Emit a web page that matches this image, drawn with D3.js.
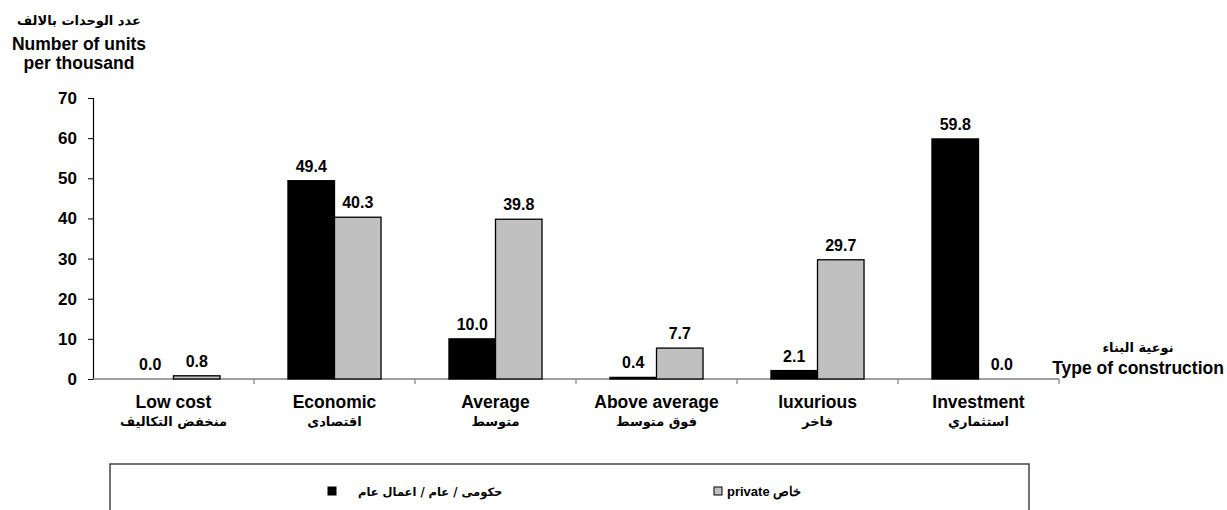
<!DOCTYPE html>
<html>
<head>
<meta charset="utf-8">
<script src="https://cdn.jsdelivr.net/npm/d3@7"></script>
<style>
  body { margin: 0; background: #fff; }
  text { font-family: "Liberation Sans", Arial, sans-serif; font-weight: bold; fill: #000; }
  .ar { font-family: "DejaVu Sans", sans-serif; }
</style>
</head>
<body>
<svg id="chart" width="1227" height="510"></svg>
<script>
const categories = ['Low cost', 'Economic', 'Average', 'Above average', 'luxurious', 'Investment'];
const categoriesAr = ['منخفض التكاليف', 'اقتصادى', 'متوسط', 'فوق متوسط', 'فاخر', 'استثماري'];
const series = ['gov', 'private'];
const govValues = [0.0, 49.4, 10.0, 0.4, 2.1, 59.8];
const privateValues = [0.8, 40.3, 39.8, 7.7, 29.7, 0.0];
const yTicks = [0, 10, 20, 30, 40, 50, 60, 70];

const svg = d3.select('#chart');

const x = d3.scaleBand()
  .domain(categories)
  .range([93, 1059])
  .paddingInner(0)
  .paddingOuter(0);

const xInner = d3.scaleBand()
  .domain(series)
  .range([0, x.bandwidth()])
  .paddingInner(0)
  .paddingOuter(0.73);

const y = d3.scaleLinear()
  .domain([0, 70])
  .range([379, 98]);

const fills = { gov: '#000', private: '#c0c0c0' };

// y axis
const yAxis = svg.append('g')
  .attr('transform', 'translate(93,0)')
  .call(d3.axisLeft(y).tickValues(yTicks).tickSize(5).tickPadding(11).tickFormat(d3.format('d')));
yAxis.select('.domain').attr('stroke', '#000').attr('stroke-width', 1.2);
yAxis.selectAll('.tick line').attr('stroke', '#000');
yAxis.selectAll('.tick text')
  .style('font-size', '17px')
  .style('font-family', '"Liberation Sans", Arial, sans-serif')
  .style('font-weight', 'bold')
  .attr('fill', '#000');

// x axis line + boundary ticks
const xAxis = svg.append('g');
xAxis.append('line')
  .attr('x1', x.range()[0]).attr('x2', x.range()[1])
  .attr('y1', y(0)).attr('y2', y(0))
  .attr('stroke', '#808080')
  .attr('stroke-width', 1.5);
const bounds = categories.map(c => x(c) + x.bandwidth());
xAxis.selectAll('.xtick')
  .data(bounds)
  .join('line')
    .attr('class', 'xtick')
    .attr('x1', d => d).attr('x2', d => d)
    .attr('y1', y(0)).attr('y2', y(0) + 5)
    .attr('stroke', '#808080')
    .attr('stroke-width', 1.2);

// bars
const rows = categories.map((c, i) => ({
  cat: c,
  values: [
    { key: 'gov', v: govValues[i] },
    { key: 'private', v: privateValues[i] },
  ],
}));

const groups = svg.append('g')
  .selectAll('g')
  .data(rows)
  .join('g')
    .attr('transform', d => `translate(${x(d.cat)},0)`);

groups.selectAll('rect')
  .data(d => d.values)
  .join('rect')
    .attr('x', d => xInner(d.key))
    .attr('y', d => y(d.v))
    .attr('width', xInner.bandwidth())
    .attr('height', d => y(0) - y(d.v))
    .attr('fill', d => fills[d.key])
    .attr('stroke', '#000')
    .attr('stroke-width', 1.3);

groups.selectAll('text.val')
  .data(d => d.values)
  .join('text')
    .attr('class', 'val')
    .attr('x', d => xInner(d.key) + xInner.bandwidth() / 2)
    .attr('y', d => y(d.v) - 9)
    .attr('text-anchor', 'middle')
    .style('font-size', '16px')
    .text(d => d.v.toFixed(1));

// category labels
const catLabels = svg.append('g')
  .selectAll('g')
  .data(categories)
  .join('g')
    .attr('transform', d => `translate(${x(d) + x.bandwidth() / 2},0)`);
catLabels.append('text')
  .attr('y', 408)
  .attr('text-anchor', 'middle')
  .style('font-size', '17.5px')
  .text(d => d);
catLabels.append('text')
  .attr('class', 'ar')
  .attr('y', 426)
  .attr('text-anchor', 'middle')
  .style('font-size', '13px')
  .text((d, i) => categoriesAr[i]);

// y title
const yTitle = svg.append('g').attr('transform', 'translate(79,0)');
yTitle.append('text').attr('class', 'ar').attr('y', 25).attr('text-anchor', 'middle')
  .style('font-size', '13px').text('عدد الوحدات بالالف');
yTitle.append('text').attr('y', 50).attr('text-anchor', 'middle')
  .style('font-size', '17.5px').text('Number of units');
yTitle.append('text').attr('y', 69).attr('text-anchor', 'middle')
  .style('font-size', '17.5px').text('per thousand');

// x title
const xTitle = svg.append('g').attr('transform', 'translate(1138,0)');
xTitle.append('text').attr('class', 'ar').attr('y', 352).attr('text-anchor', 'middle')
  .style('font-size', '13px').text('نوعية البناء');
xTitle.append('text').attr('y', 374).attr('text-anchor', 'middle')
  .style('font-size', '17.5px').text('Type of construction');

// legend
const legend = svg.append('g');
legend.append('path')
  .attr('d', 'M110,520 V464 H1029 V520')
  .attr('fill', 'none')
  .attr('stroke', '#444')
  .attr('stroke-width', 1.5);

const legendItems = [
  { key: 'gov', label: 'حكومى / عام / اعمال عام', sx: 328, tx: 358, size: '11.5px' },
  { key: 'private', label: 'private خاص', sx: 714, tx: 727, size: '13px' },
];
const li = legend.selectAll('g.item')
  .data(legendItems)
  .join('g')
    .attr('class', 'item');
li.append('rect')
  .attr('x', d => d.sx)
  .attr('y', 487)
  .attr('width', 8)
  .attr('height', 8)
  .attr('fill', d => fills[d.key])
  .attr('stroke', '#000')
  .attr('stroke-width', 1);
li.append('text')
  .attr('class', d => d.key === 'gov' ? 'ar' : null)
  .attr('x', d => d.tx)
  .attr('y', 496)
  .style('font-size', d => d.size)
  .text(d => d.label);
</script>
</body>
</html>
